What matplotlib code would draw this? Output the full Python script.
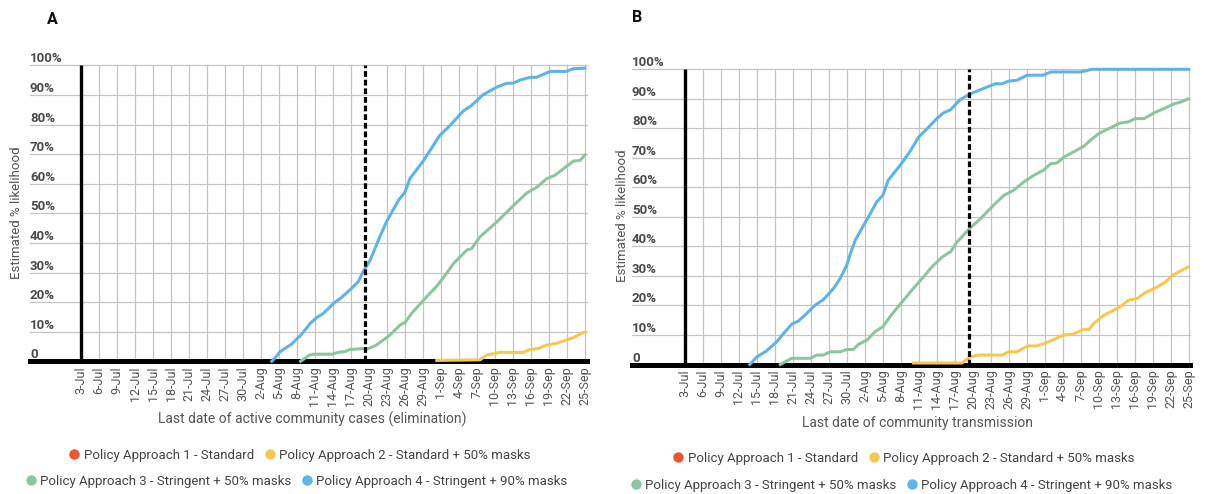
import matplotlib
matplotlib.use("Agg")
import matplotlib.pyplot as plt
from matplotlib.lines import Line2D
import matplotlib.transforms as mtransforms

plt.rcParams['font.family'] = ['Roboto', 'DejaVu Sans']

# ---------------- data (x = days after 3-Jul) ----------------
tick_days = list(range(0, 85, 3))
tick_labels = ["3-Jul", "6-Jul", "9-Jul", "12-Jul", "15-Jul", "18-Jul", "21-Jul", "24-Jul",
               "27-Jul", "30-Jul", "2-Aug", "5-Aug", "8-Aug", "11-Aug", "14-Aug", "17-Aug",
               "20-Aug", "23-Aug", "26-Aug", "29-Aug", "1-Sep", "4-Sep", "7-Sep", "10-Sep",
               "13-Sep", "16-Sep", "19-Sep", "22-Sep", "25-Sep"]
y_ticks = [0, 10, 20, 30, 40, 50, 60, 70, 80, 90, 100]
y_tick_labels = ["0", "10%", "20%", "30%", "40%", "50%", "60%", "70%", "80%", "90%", "100%"]
marker_day = 47.3  # dashed reference line

series_names = ["Policy Approach 1 - Standard", "Policy Approach 2 - Standard + 50% masks",
                "Policy Approach 3 - Stringent + 50% masks", "Policy Approach 4 - Stringent + 90% masks"]
series_colors = ["#E8572E", "#F3C94E", "#8EC5A0", "#5FB4E6"]

# Panel A: elimination
redA_x = [0, 84]
redA_y = [0, 0]
yellowA_x = [59.3, 66.5, 67.6, 69.8, 73.7, 74.8, 76.2, 77.6, 79.3, 80.9, 82.05, 84.0]
yellowA_y = [0.3, 0.5, 2.1, 3.0, 3.0, 4.0, 4.3, 5.5, 6.1, 7.2, 8.0, 10.0]
greenA_x = [36.6, 38.0, 38.7, 41.8, 42.9, 44.0, 44.8, 47.1, 47.9, 49.0, 50.4, 51.5, 53.2, 54.0,
            55.1, 57.6, 59.3, 60.7, 62.1, 64.3, 65.1, 66.5, 69.3, 72.1, 74.3, 76.0, 77.6, 79.0,
            80.4, 82.1, 83.2, 84.0]
greenA_y = [0, 2.0, 2.4, 2.4, 3.0, 3.3, 4.0, 4.3, 4.3, 5.2, 7.2, 8.9, 12.3, 13.1, 16.2, 21.8,
            25.4, 29.1, 33.1, 37.6, 38.1, 42.1, 47.1, 52.7, 56.9, 58.9, 61.7, 62.9, 65.1, 67.7,
            67.9, 69.8]
blueA_x = [31.8, 32.5, 33.2, 35.1, 36.8, 38.2, 39.3, 40.4, 42.1, 43.2, 44.8, 46.2, 47.0, 48.2,
           49.8, 50.9, 52.9, 54.0, 54.8, 57.1, 59.8, 61.5, 63.7, 65.1, 67.0, 69.3, 71.0, 72.0,
           73.2, 74.8, 75.9, 78.2, 80.9, 82.0, 84.0]
blueA_y = [0, 1.5, 3.3, 5.8, 9.2, 12.8, 14.8, 16.2, 19.6, 21.2, 24.1, 26.9, 30.2, 34.2, 42.1,
           47.1, 54.4, 57.2, 61.7, 67.9, 76.4, 79.7, 84.6, 86.5, 90.1, 92.7, 94.0, 94.0, 95.1,
           96.0, 96.0, 98.0, 98.0, 98.9, 99.1]

# Panel B: community transmission
redB_x = [0, 84]
redB_y = [0, 0]
yellowB_x = [38.1, 46.2, 47.6, 49.0, 52.9, 54.0, 55.4, 57.2, 58.7, 60.1, 63.2, 64.6, 66.5, 67.4,
             68.2, 69.9, 72.6, 74.0, 75.5, 76.6, 78.8, 80.2, 81.3, 84.0]
yellowB_y = [0.5, 0.5, 2.6, 3.2, 3.2, 4.3, 4.3, 6.3, 6.3, 7.2, 10.0, 10.2, 11.9, 11.9, 13.9,
             16.7, 19.5, 21.8, 22.4, 24.1, 26.3, 28.0, 30.2, 33.1]
greenB_x = [15.9, 17.8, 20.9, 22.0, 23.1, 24.2, 25.9, 27.0, 28.1, 29.0, 30.4, 31.7, 33.0, 34.2,
            35.9, 38.1, 39.8, 41.2, 42.9, 44.3, 45.4, 47.5, 49.3, 51.5, 53.2, 54.8, 56.5, 58.2,
            59.8, 61.0, 62.1, 63.2, 64.8, 66.5, 67.6, 69.0, 71.0, 72.6, 74.0, 75.1, 76.6, 78.2,
            79.9, 81.6, 82.7, 84.0]
greenB_y = [0, 2.1, 2.1, 3.2, 3.2, 4.3, 4.3, 5.1, 5.1, 6.9, 8.3, 11.1, 12.8, 16.2, 20.4, 25.8,
            29.7, 33.1, 36.4, 38.2, 41.5, 46.1, 49.4, 54.0, 57.3, 59.0, 61.8, 64.1, 65.8, 68.0,
            68.3, 70.3, 72.0, 73.9, 75.9, 78.2, 80.2, 81.8, 82.2, 83.3, 83.3, 85.2, 86.7, 88.3,
            88.9, 90.0]
blueB_x = [10.8, 12.0, 13.6, 15.3, 16.7, 17.8, 18.9, 20.0, 21.7, 23.1, 24.8, 25.9, 27.0, 27.6,
           28.4, 29.5, 30.6, 32.0, 33.0, 33.9, 35.9, 37.3, 39.0, 40.4, 42.0, 43.1, 44.3, 45.9,
           47.6, 49.3, 50.4, 51.8, 52.9, 54.0, 55.4, 57.1, 59.8, 61.0, 66.0, 67.9, 84.0]
blueB_y = [0, 2.6, 4.6, 7.7, 11.1, 13.7, 14.7, 16.7, 20.1, 22.0, 25.8, 29.2, 33.7, 37.6, 42.1,
           46.1, 50.0, 55.1, 57.3, 62.4, 67.5, 71.4, 77.1, 79.9, 83.3, 85.2, 86.3, 89.7, 91.7,
           93.1, 94.0, 95.1, 95.1, 96.0, 96.3, 98.0, 98.0, 99.1, 99.1, 100, 100]

# ---------------- figure ----------------
W, H = 1207, 494
fig = plt.figure(figsize=(W / 100, H / 100), dpi=100)

GRID = "#c4c4c4"
TXT = "#555555"


def make_panel(rect_px, day0_px, day84_px, series, letter, letter_px, xlabel, xlabel_px,
               ylabel_px):
    left, top, right, bottom = rect_px
    ax = fig.add_axes([left / W, (H - bottom) / H, (right - left) / W, (bottom - top) / H])
    ppd = (day84_px - day0_px) / 84.0
    ax.set_xlim((left - day0_px) / ppd, (right - day0_px) / ppd)
    ax.set_ylim(0, 100)
    for s in ax.spines.values():
        s.set_visible(False)
    ax.set_yticks([])
    # grid
    for v in y_ticks[1:]:
        ax.axhline(v, color=GRID, lw=0.9, zorder=1, clip_on=False)
    for d in tick_days[1:]:
        if abs(d - marker_day) < 1.5:
            continue
        ax.plot([d, d], [0, 100], color=GRID, lw=0.9, zorder=1, clip_on=False)
    # series (policy 1 stays at zero, hidden under the axis line)
    for i, ((xs, ys), c) in enumerate(zip(series, series_colors)):
        ax.plot(xs, ys, color=c, lw=2.2, zorder=2 if i == 0 else 3, clip_on=False,
                solid_joinstyle="round")
    # thick axes lines
    ax.plot([0, 0], [0, 100], color="black", lw=2.4, zorder=3, clip_on=False,
            solid_capstyle="butt")
    ax.axhline(0, color="black", lw=3.6, zorder=2.5, clip_on=False)
    # dashed marker
    ax.plot([marker_day, marker_day], [0, 100], color="black", lw=2.3,
            linestyle=(0, (1.8, 0.9)), zorder=4, clip_on=False)
    # x ticks
    ax.set_xticks(tick_days)
    ax.set_xticklabels(tick_labels, rotation=90, fontsize=9, color=TXT)
    ax.tick_params(axis="x", length=0, pad=3.5)
    # y tick labels above gridlines
    trans = mtransforms.offset_copy(
        mtransforms.blended_transform_factory(ax.transAxes, ax.transData),
        fig=fig, x=0, y=3, units="dots")
    for v, lab in zip(y_ticks, y_tick_labels):
        ax.text(0.0, v, lab, transform=trans, ha="left", va="baseline", fontsize=9.5,
                fontweight="bold", color="#4a4a4a")
    fig.text(letter_px[0] / W, 1 - letter_px[1] / H, letter, fontsize=11.5,
             fontweight="bold", color="#111111", ha="center", va="center")
    fig.text(xlabel_px[0] / W, 1 - xlabel_px[1] / H, xlabel, fontsize=10, color=TXT,
             ha="center", va="center")
    fig.text(ylabel_px[0] / W, 1 - ylabel_px[1] / H, "Estimated % likelihood", fontsize=9.5,
             color=TXT, ha="center", va="center", rotation=90)
    return ax


make_panel((30, 65.5, 587, 361.3), 81, 585,
           [(redA_x, redA_y), (yellowA_x, yellowA_y), (greenA_x, greenA_y), (blueA_x, blueA_y)],
           "A", (52, 19), "Last date of active community cases (elimination)", (312, 419),
           (17, 213))
make_panel((632, 69.3, 1190, 364.5), 685, 1188.5,
           [(redB_x, redB_y), (yellowB_x, yellowB_y), (greenB_x, greenB_y), (blueB_x, blueB_y)],
           "B", (637, 18), "Last date of community transmission", (917, 423),
           (622, 216))

handles = [Line2D([], [], marker="o", linestyle="none", markersize=7.5, color=c,
                  markeredgewidth=0) for c in series_colors]


def legend_row(idx, center_px):
    leg = fig.legend([handles[i] for i in idx], [series_names[i] for i in idx], loc="center",
                     bbox_to_anchor=(center_px[0] / W, 1 - center_px[1] / H), ncol=len(idx),
                     frameon=False, fontsize=9.5, handletextpad=0.2, columnspacing=0.7,
                     handlelength=1.0, borderpad=0, borderaxespad=0)
    for t in leg.get_texts():
        t.set_color("#444444")
    return leg


legend_row([0, 1], (299, 455))
legend_row([2, 3], (296, 481))
legend_row([0, 1], (903, 458))
legend_row([2, 3], (901, 485))

fig.savefig("out.png", dpi=100)
